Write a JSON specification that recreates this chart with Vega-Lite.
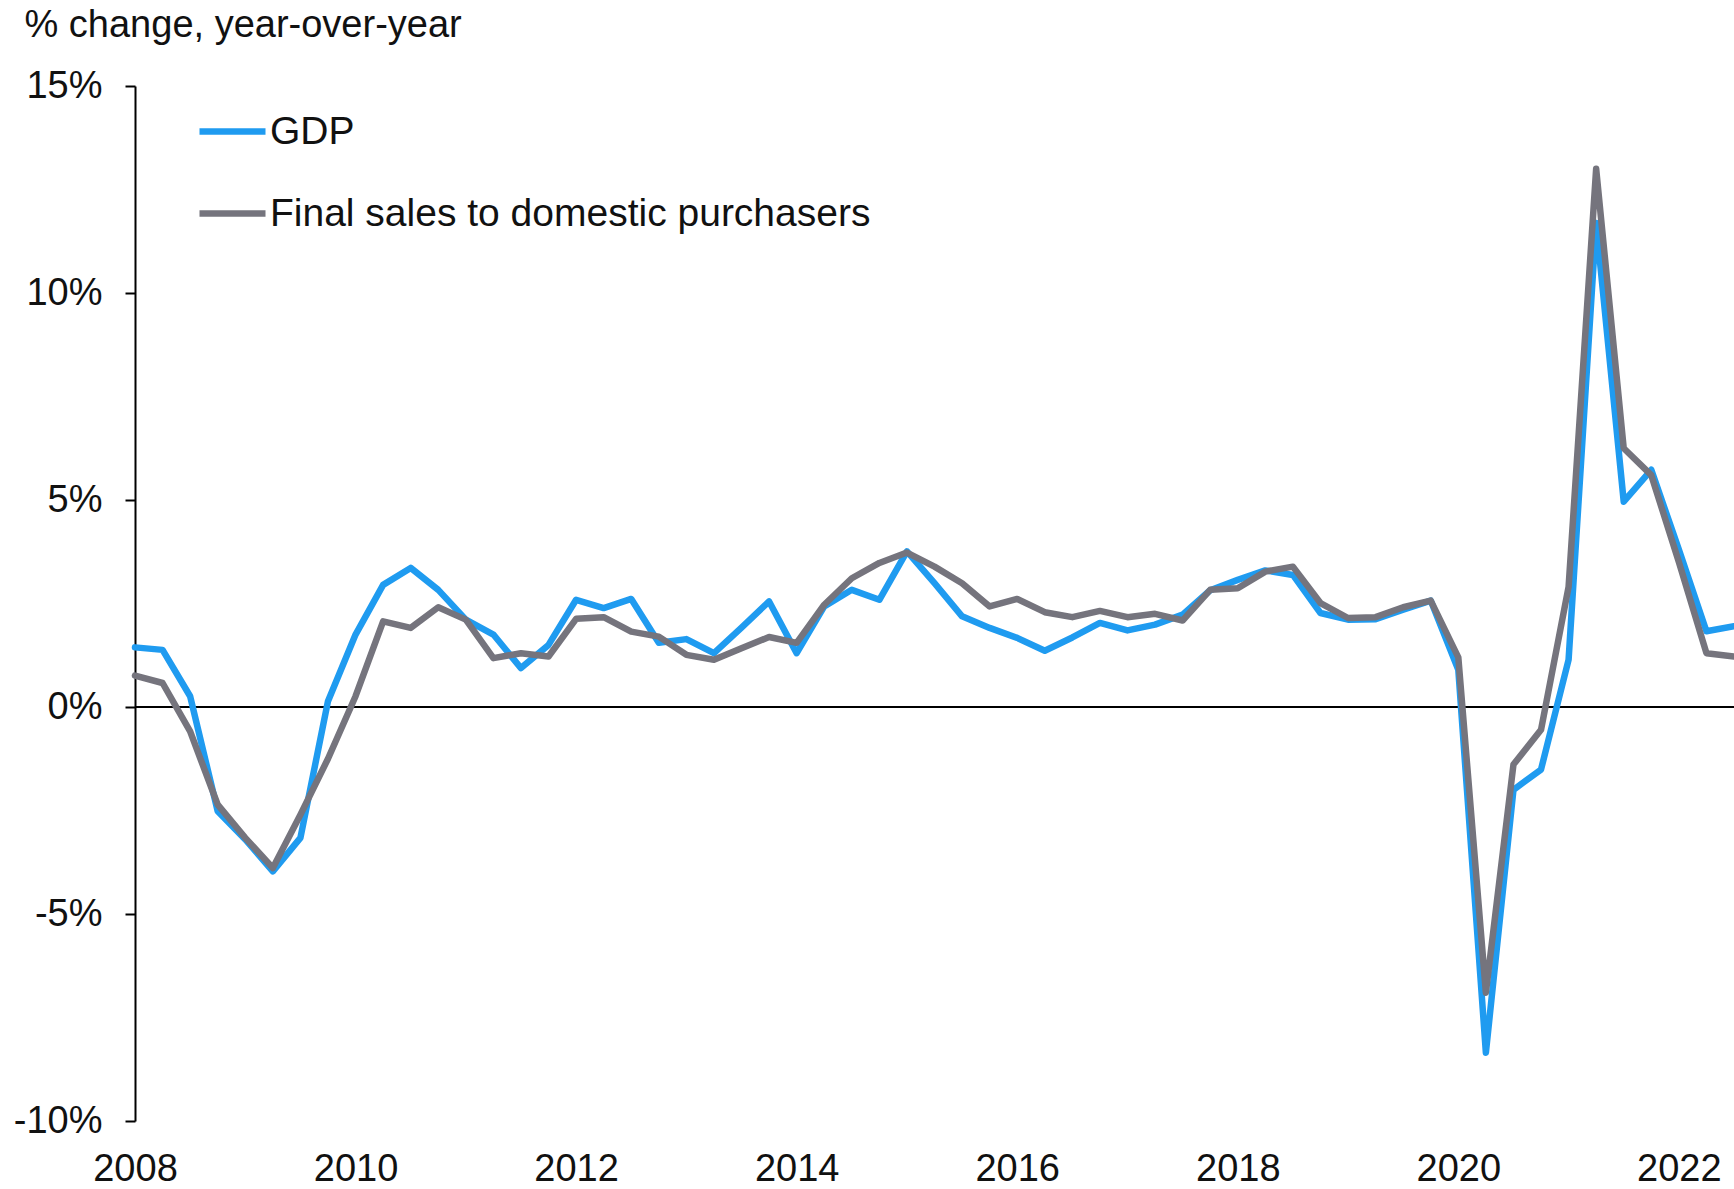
{
"$schema":"https://vega.github.io/schema/vega-lite/v6.json",
"width":1599,"height":1035,
"autosize":{"type":"none"},
"padding":{"left":135,"top":86,"right":0,"bottom":68},
"background":"white",
"config":{"view":{"stroke":null},"font":"Liberation Sans"},
"datasets":{
"zero":[{"zero":0}],
"series":[
{"t":2008.0,"s":"GDP","v":1.44},{"t":2008.25,"s":"GDP","v":1.38},{"t":2008.5,"s":"GDP","v":0.26},{"t":2008.75,"s":"GDP","v":-2.52},
{"t":2009.0,"s":"GDP","v":-3.2},{"t":2009.25,"s":"GDP","v":-3.97},{"t":2009.5,"s":"GDP","v":-3.16},{"t":2009.75,"s":"GDP","v":0.14},
{"t":2010.0,"s":"GDP","v":1.75},{"t":2010.25,"s":"GDP","v":2.95},{"t":2010.5,"s":"GDP","v":3.36},{"t":2010.75,"s":"GDP","v":2.83},
{"t":2011.0,"s":"GDP","v":2.11},{"t":2011.25,"s":"GDP","v":1.75},{"t":2011.5,"s":"GDP","v":0.94},{"t":2011.75,"s":"GDP","v":1.5},
{"t":2012.0,"s":"GDP","v":2.59},{"t":2012.25,"s":"GDP","v":2.39},{"t":2012.5,"s":"GDP","v":2.61},{"t":2012.75,"s":"GDP","v":1.55},
{"t":2013.0,"s":"GDP","v":1.64},{"t":2013.25,"s":"GDP","v":1.30},{"t":2013.5,"s":"GDP","v":1.92},{"t":2013.75,"s":"GDP","v":2.55},
{"t":2014.0,"s":"GDP","v":1.30},{"t":2014.25,"s":"GDP","v":2.43},{"t":2014.5,"s":"GDP","v":2.83},{"t":2014.75,"s":"GDP","v":2.59},
{"t":2015.0,"s":"GDP","v":3.76},{"t":2015.25,"s":"GDP","v":2.99},{"t":2015.5,"s":"GDP","v":2.19},{"t":2015.75,"s":"GDP","v":1.91},
{"t":2016.0,"s":"GDP","v":1.67},{"t":2016.25,"s":"GDP","v":1.36},{"t":2016.5,"s":"GDP","v":1.68},{"t":2016.75,"s":"GDP","v":2.03},
{"t":2017.0,"s":"GDP","v":1.85},{"t":2017.25,"s":"GDP","v":1.99},{"t":2017.5,"s":"GDP","v":2.23},{"t":2017.75,"s":"GDP","v":2.82},
{"t":2018.0,"s":"GDP","v":3.07},{"t":2018.25,"s":"GDP","v":3.30},{"t":2018.5,"s":"GDP","v":3.19},{"t":2018.75,"s":"GDP","v":2.27},
{"t":2019.0,"s":"GDP","v":2.11},{"t":2019.25,"s":"GDP","v":2.12},{"t":2019.5,"s":"GDP","v":2.35},{"t":2019.75,"s":"GDP","v":2.57},
{"t":2020.0,"s":"GDP","v":0.90},{"t":2020.25,"s":"GDP","v":-8.35},{"t":2020.5,"s":"GDP","v":-2.0},{"t":2020.75,"s":"GDP","v":-1.51},
{"t":2021.0,"s":"GDP","v":1.14},{"t":2021.25,"s":"GDP","v":11.69},{"t":2021.5,"s":"GDP","v":4.96},{"t":2021.75,"s":"GDP","v":5.73},
{"t":2022.0,"s":"GDP","v":3.8},{"t":2022.25,"s":"GDP","v":1.83},{"t":2022.5,"s":"GDP","v":1.95},
{"t":2008.0,"s":"Final sales to domestic purchasers","v":0.76},{"t":2008.25,"s":"Final sales to domestic purchasers","v":0.58},{"t":2008.5,"s":"Final sales to domestic purchasers","v":-0.59},{"t":2008.75,"s":"Final sales to domestic purchasers","v":-2.36},
{"t":2009.0,"s":"Final sales to domestic purchasers","v":-3.16},{"t":2009.25,"s":"Final sales to domestic purchasers","v":-3.89},{"t":2009.5,"s":"Final sales to domestic purchasers","v":-2.6},{"t":2009.75,"s":"Final sales to domestic purchasers","v":-1.25},
{"t":2010.0,"s":"Final sales to domestic purchasers","v":0.26},{"t":2010.25,"s":"Final sales to domestic purchasers","v":2.07},{"t":2010.5,"s":"Final sales to domestic purchasers","v":1.91},{"t":2010.75,"s":"Final sales to domestic purchasers","v":2.41},
{"t":2011.0,"s":"Final sales to domestic purchasers","v":2.11},{"t":2011.25,"s":"Final sales to domestic purchasers","v":1.18},{"t":2011.5,"s":"Final sales to domestic purchasers","v":1.3},{"t":2011.75,"s":"Final sales to domestic purchasers","v":1.22},
{"t":2012.0,"s":"Final sales to domestic purchasers","v":2.13},{"t":2012.25,"s":"Final sales to domestic purchasers","v":2.17},{"t":2012.5,"s":"Final sales to domestic purchasers","v":1.82},{"t":2012.75,"s":"Final sales to domestic purchasers","v":1.70},
{"t":2013.0,"s":"Final sales to domestic purchasers","v":1.26},{"t":2013.25,"s":"Final sales to domestic purchasers","v":1.14},{"t":2013.5,"s":"Final sales to domestic purchasers","v":1.42},{"t":2013.75,"s":"Final sales to domestic purchasers","v":1.69},
{"t":2014.0,"s":"Final sales to domestic purchasers","v":1.55},{"t":2014.25,"s":"Final sales to domestic purchasers","v":2.47},{"t":2014.5,"s":"Final sales to domestic purchasers","v":3.11},{"t":2014.75,"s":"Final sales to domestic purchasers","v":3.48},
{"t":2015.0,"s":"Final sales to domestic purchasers","v":3.73},{"t":2015.25,"s":"Final sales to domestic purchasers","v":3.39},{"t":2015.5,"s":"Final sales to domestic purchasers","v":2.99},{"t":2015.75,"s":"Final sales to domestic purchasers","v":2.43},
{"t":2016.0,"s":"Final sales to domestic purchasers","v":2.61},{"t":2016.25,"s":"Final sales to domestic purchasers","v":2.29},{"t":2016.5,"s":"Final sales to domestic purchasers","v":2.17},{"t":2016.75,"s":"Final sales to domestic purchasers","v":2.32},
{"t":2017.0,"s":"Final sales to domestic purchasers","v":2.17},{"t":2017.25,"s":"Final sales to domestic purchasers","v":2.25},{"t":2017.5,"s":"Final sales to domestic purchasers","v":2.09},{"t":2017.75,"s":"Final sales to domestic purchasers","v":2.83},
{"t":2018.0,"s":"Final sales to domestic purchasers","v":2.87},{"t":2018.25,"s":"Final sales to domestic purchasers","v":3.27},{"t":2018.5,"s":"Final sales to domestic purchasers","v":3.39},{"t":2018.75,"s":"Final sales to domestic purchasers","v":2.51},
{"t":2019.0,"s":"Final sales to domestic purchasers","v":2.15},{"t":2019.25,"s":"Final sales to domestic purchasers","v":2.17},{"t":2019.5,"s":"Final sales to domestic purchasers","v":2.41},{"t":2019.75,"s":"Final sales to domestic purchasers","v":2.57},
{"t":2020.0,"s":"Final sales to domestic purchasers","v":1.2},{"t":2020.25,"s":"Final sales to domestic purchasers","v":-6.90},{"t":2020.5,"s":"Final sales to domestic purchasers","v":-1.39},{"t":2020.75,"s":"Final sales to domestic purchasers","v":-0.55},
{"t":2021.0,"s":"Final sales to domestic purchasers","v":2.9},{"t":2021.25,"s":"Final sales to domestic purchasers","v":13.0},{"t":2021.5,"s":"Final sales to domestic purchasers","v":6.25},{"t":2021.75,"s":"Final sales to domestic purchasers","v":5.6},
{"t":2022.0,"s":"Final sales to domestic purchasers","v":3.5},{"t":2022.25,"s":"Final sales to domestic purchasers","v":1.30},{"t":2022.5,"s":"Final sales to domestic purchasers","v":1.22}
]},
"layer":[
{"data":{"name":"zero"},
 "mark":{"type":"rule","color":"#000000","strokeWidth":2},
 "encoding":{"y":{"field":"zero","type":"quantitative","scale":{"domain":[-10,15],"nice":false,"zero":false}}}},
{"data":{"name":"series"},
 "mark":{"type":"line","strokeWidth":6.5,"strokeJoin":"round","strokeCap":"round"},
 "encoding":{
  "x":{"field":"t","type":"quantitative","scale":{"domain":[2008,2022.5],"nice":false,"zero":false},
   "axis":{"values":[2008,2010,2012,2014,2016,2018,2020,2022],"format":"d","title":null,"grid":false,"domain":false,"ticks":false,"tickSize":0,"labelFlush":false,"labelBound":false,"labelOverlap":false,"labelPadding":29,"labelDx":4,"labelFontSize":38,"labelColor":"#111111","labelFont":"Liberation Sans"}},
  "y":{"field":"v","type":"quantitative","scale":{"domain":[-10,15],"nice":false,"zero":false},
   "axis":{"values":[-10,-5,0,5,10,15],"labelExpr":"datum.value + '%'","grid":false,"domain":true,"domainColor":"#000000","domainWidth":2,"ticks":true,"tickColor":"#000000","tickWidth":2,"tickSize":10,"labelPadding":23,"labelFontSize":38,"labelColor":"#111111","labelFont":"Liberation Sans","labelFlush":false,"labelOverlap":false,
    "title":"% change, year-over-year","titleAngle":0,"titleX":-111,"titleY":-49.5,"titleAlign":"left","titleBaseline":"alphabetic","titleFontSize":38,"titleFontWeight":"normal","titleColor":"#111111","titleFont":"Liberation Sans"}},
  "color":{"field":"s","type":"nominal","sort":["GDP","Final sales to domestic purchasers"],
   "scale":{"domain":["GDP","Final sales to domestic purchasers"],"range":["#1F9BF0","#75747D"]},
   "legend":{"orient":"none","legendX":61,"legendY":9,"title":null,"symbolType":"stroke","symbolSize":4356,"symbolStrokeWidth":6.5,"labelFontSize":39,"labelOffset":1,"rowPadding":25,"labelLimit":2000,"padding":0,"labelColor":"#111111","labelFont":"Liberation Sans"}}
 }}
]
}
